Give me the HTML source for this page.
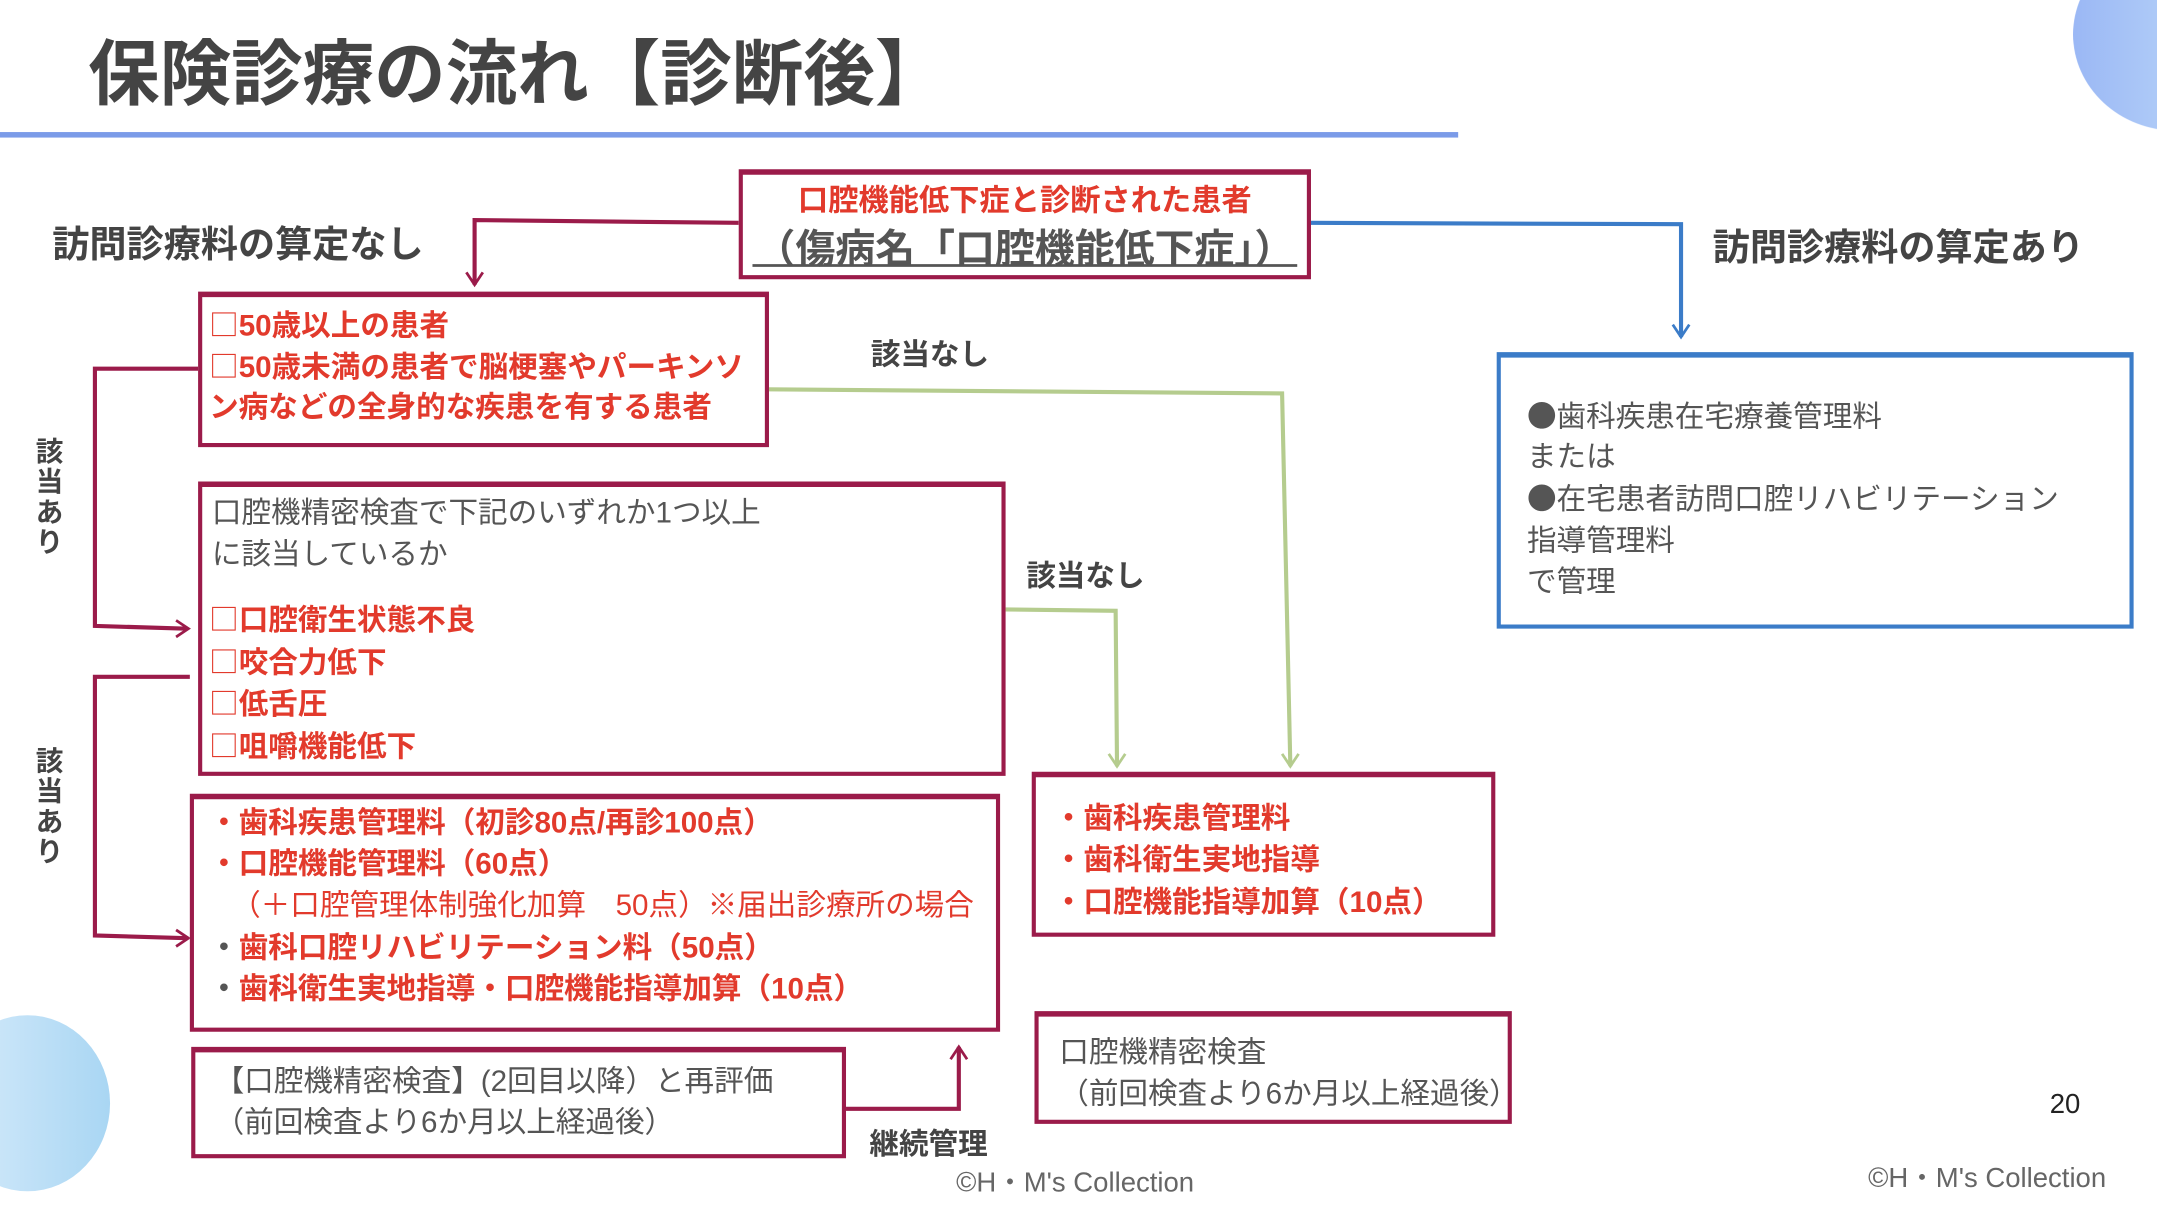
<!DOCTYPE html>
<html><head><meta charset="utf-8"><style>
html,body{margin:0;padding:0;background:#fff;width:2157px;height:1211px;overflow:hidden}
#s{position:absolute;left:0;top:0;width:1568px;height:880px;transform:scale(1.37564);transform-origin:0 0;font-family:"Liberation Sans","Noto Sans CJK JP",sans-serif;color:#555}
.a{position:absolute;white-space:nowrap}
.bx{position:absolute;border:3px solid #9b1b4a;box-sizing:border-box;background:#fff}
.r{color:#e23a2c;font-weight:bold}
.l{position:absolute;white-space:nowrap;font-size:21.5px;line-height:30px}
.lab{position:absolute;white-space:nowrap;font-size:21.5px;font-weight:bold;color:#444}
.c{font-family:"Noto Sans CJK JP",sans-serif;font-weight:normal}
</style></head><body><div id="s">
<div style="position:absolute;left:1507px;top:-45px;width:150px;height:140px;border-radius:50%;background:linear-gradient(90deg,#9bb8f5,#c9e4fb)"></div>
<div style="position:absolute;left:-40px;top:738px;width:120px;height:128px;border-radius:50%;background:linear-gradient(90deg,#d8ecfb,#a9d6f3)"></div>
<div class="a" style="left:64px;top:22px;font-size:52px;font-weight:bold;color:#444;line-height:66px">保険診療の流れ【診断後】</div>
<div style="position:absolute;left:0;top:96px;width:1060px;height:4px;background:#7b9be8"></div>

<svg style="position:absolute;left:0;top:0" width="1568" height="880">
<g fill="none" stroke-width="3">
<polyline points="537,162 345,160 345,207" stroke="#9b1b4a"/>
<polyline points="339,198 345,207 351,198" stroke="#9b1b4a" stroke-width="2"/>
<polyline points="952,162 1222,163 1222,245" stroke="#3b7cc8"/>
<polyline points="1216,236 1222,245 1228,236" stroke="#3b7cc8" stroke-width="2"/>
<polyline points="558,283 932,286 938,557" stroke="#b5cc8e"/>
<polyline points="932,548 938,557 944,548" stroke="#b5cc8e" stroke-width="2"/>
<polyline points="730,443 811,444 812,557" stroke="#b5cc8e"/>
<polyline points="806,548 812,557 818,548" stroke="#b5cc8e" stroke-width="2"/>
<polyline points="144,268 69,268 69,455 136,457" stroke="#9b1b4a"/>
<polyline points="128,451 137,457 128,463" stroke="#9b1b4a" stroke-width="2"/>
<polyline points="138,492 69,492 69,680 136,682" stroke="#9b1b4a"/>
<polyline points="128,676 137,682 128,688" stroke="#9b1b4a" stroke-width="2"/>
<polyline points="614,806 697,806 697,761" stroke="#9b1b4a"/>
<polyline points="691,770 697,761 703,770" stroke="#9b1b4a" stroke-width="2"/>
</g></svg>

<div class="bx" style="left:537px;top:123px;width:416px;height:80px;border-top-width:4px"></div>
<div class="a r" style="left:537px;width:416px;text-align:center;top:128px;font-size:22px">口腔機能低下症と診断された患者</div>
<div class="a" style="left:537px;width:416px;text-align:center;top:158px;font-size:29px;font-weight:bold;color:#555">（傷病名「口腔機能低下症」）</div>
<div style="position:absolute;left:547px;top:192px;width:396px;height:2px;background:#555"></div>

<div class="bx" style="left:144px;top:212px;width:415px;height:113px;border-top-width:4px"></div>
<div class="l r" style="left:152px;top:221px"><span class="c">□</span>50歳以上の患者</div>
<div class="l r" style="left:152px;top:251px"><span class="c">□</span>50歳未満の患者で脳梗塞やパーキンソ</div>
<div class="l r" style="left:152px;top:281px">ン病などの全身的な疾患を有する患者</div>

<div class="bx" style="left:144px;top:350px;width:587px;height:214px;border-top-width:4px"></div>
<div class="l" style="left:154px;top:358px">口腔機精密検査で下記のいずれか1つ以上</div>
<div class="l" style="left:154px;top:388px">に該当しているか</div>
<div class="l r" style="left:152px;top:435px"><span class="c">□</span>口腔衛生状態不良</div>
<div class="l r" style="left:152px;top:466px"><span class="c">□</span>咬合力低下</div>
<div class="l r" style="left:152px;top:496px"><span class="c">□</span>低舌圧</div>
<div class="l r" style="left:152px;top:527px"><span class="c">□</span>咀嚼機能低下</div>

<div class="bx" style="left:138px;top:577px;width:589px;height:173px;border-top-width:4px"></div>
<div class="l r" style="left:152px;top:583px">・歯科疾患管理料（初診80点/再診100点）</div>
<div class="l r" style="left:152px;top:613px">・口腔機能管理料（60点）</div>
<div class="l" style="left:168px;top:643px;color:#e23a2c">（＋口腔管理体制強化加算　50点）※届出診療所の場合</div>
<div class="l r" style="left:152px;top:674px"><span style="color:#555">・</span>歯科口腔リハビリテーション料（50点）</div>
<div class="l r" style="left:152px;top:704px"><span style="color:#555">・</span>歯科衛生実地指導・口腔機能指導加算（10点）</div>

<div class="bx" style="left:750px;top:561px;width:337px;height:120px;border-top-width:4px"></div>
<div class="l r" style="left:766px;top:580px">・歯科疾患管理料</div>
<div class="l r" style="left:766px;top:610px">・歯科衛生実地指導</div>
<div class="l r" style="left:766px;top:641px">・口腔機能指導加算（10点）</div>

<div class="bx" style="left:139px;top:761px;width:476px;height:81px;border-top-width:4px"></div>
<div class="l" style="left:156px;top:771px">【口腔機精密検査】(2回目以降）と再評価</div>
<div class="l" style="left:156px;top:801px">（前回検査より6か月以上経過後）</div>

<div class="bx" style="left:752px;top:735px;width:347px;height:82px;border-top-width:4px"></div>
<div class="l" style="left:770px;top:750px">口腔機精密検査</div>
<div class="l" style="left:770px;top:780px">（前回検査より6か月以上経過後）</div>

<div class="bx" style="left:1088px;top:256px;width:463px;height:201px;border-color:#3b7cc8;border-top-width:4px"></div>
<div class="l" style="left:1110px;top:287px"><span class="c">●</span>歯科疾患在宅療養管理料</div>
<div class="l" style="left:1110px;top:317px">または</div>
<div class="l" style="left:1110px;top:347px"><span class="c">●</span>在宅患者訪問口腔リハビリテーション</div>
<div class="l" style="left:1110px;top:378px">指導管理料</div>
<div class="l" style="left:1110px;top:408px">で管理</div>

<div class="lab" style="left:38px;top:156px;font-size:27px">訪問診療料の算定なし</div>
<div class="lab" style="left:1245px;top:158px;font-size:27px">訪問診療料の算定あり</div>
<div class="lab" style="left:633px;top:241px">該当なし</div>
<div class="lab" style="left:746px;top:402px">該当なし</div>
<div class="lab" style="left:632px;top:815px">継続管理</div>
<div class="lab" style="left:26px;top:318px;width:22px;white-space:normal;line-height:22px;font-size:20px">該当あり</div>
<div class="lab" style="left:26px;top:543px;width:22px;white-space:normal;line-height:22px;font-size:20px">該当あり</div>
<div class="a" style="left:1490px;top:792px;font-size:20px;color:#222">20</div>
<div class="a" style="left:695px;top:843px;font-size:20px;color:#666">©H・M's Collection</div>
<div class="a" style="left:1358px;top:840px;font-size:20px;color:#666">©H・M's Collection</div>
</div></body></html>
